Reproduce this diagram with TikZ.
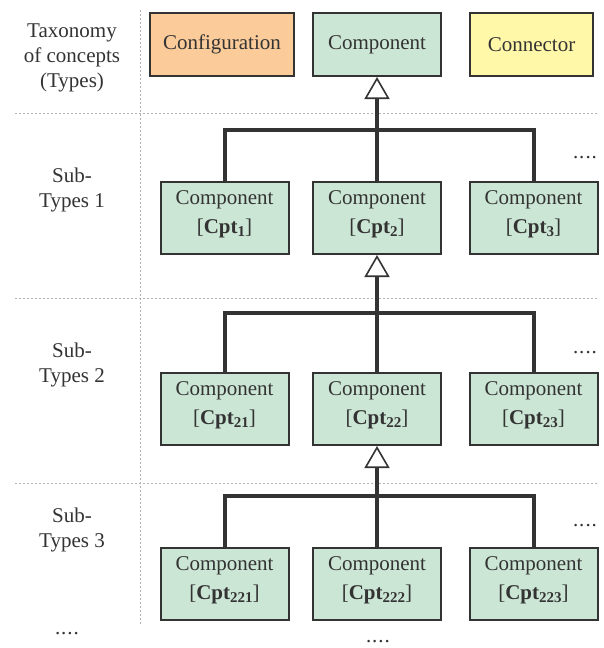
\documentclass[tikz,border=0pt]{standalone}
\usepackage{fontspec}
\setmainfont{Liberation Serif}
\usetikzlibrary{arrows.meta}

\definecolor{cfgfill}{HTML}{FBCB9A}
\definecolor{cptfill}{HTML}{CCE6D5}
\definecolor{confill}{HTML}{FFF8A8}
\definecolor{ink}{HTML}{333333}

\newcommand{\cpt}[1]{[\textbf{Cpt}\raisebox{-0.35ex}{\fontsize{7.5}{7.5}\selectfont\bfseries #1}]}
\newcommand{\more}{.\kern0.5pt.\kern0.5pt.\kern0.5pt.}

\tikzset{
  box/.style={draw=ink, line width=1pt, text=ink, inner sep=0pt,
    minimum width=64pt, minimum height=36pt, align=center,
    font=\fontsize{10.5}{14.5}\selectfont},
  topbox/.style={box, minimum height=31.5pt},
  subbox/.style={box, fill=cptfill, text depth=6pt},
  lbl/.style={text=ink, align=center, font=\fontsize{10.5}{12.5}\selectfont},
  sep/.style={draw=gray!60, line width=0.5pt, dash pattern=on 1pt off 1pt},
  link/.style={draw=ink, line width=2pt},
  isa/.style={link, -{Triangle[open, length=11pt, width=12.5pt, line width=0.8pt]}}
}

\begin{document}
\begin{tikzpicture}[x=0.5pt,y=-0.5pt]
\useasboundingbox (0,0) rectangle (604,648);

% grid of levels
\draw[sep] (140,10) -- (140,624);
\draw[sep] (15,113) -- (597,113);
\draw[sep] (15,298) -- (597,298);
\draw[sep] (15,483) -- (597,483);

\node[lbl] (L0) at (72,58) {Taxonomy\\of concepts\\(Types)};
\node[lbl] (L1) at (72,190) {Sub-\\Types 1};
\node[lbl] (L2) at (72,365) {Sub-\\Types 2};
\node[lbl] (L3) at (72,530) {Sub-\\Types 3};

% types
\node[topbox, fill=cfgfill, minimum width=72pt] (Cfg) at (222,44.5) {Configuration};
\node[topbox, fill=cptfill] (Cpt) at (377,44.5) {Component};
\node[topbox, fill=confill, minimum width=61.5pt] (Con) at (531.5,44.5) {Connector};

% sub-types 1
\node[subbox] (C1) at (224.5,218) {Component\\\cpt{1}};
\node[subbox] (C2) at (377,218) {Component\\\cpt{2}};
\node[subbox] (C3) at (533.5,218) {Component\\\cpt{3}};

% sub-types 2
\node[subbox] (C21) at (224.5,409) {Component\\\cpt{21}};
\node[subbox] (C22) at (377,409) {Component\\\cpt{22}};
\node[subbox] (C23) at (533.5,409) {Component\\\cpt{23}};

% sub-types 3
\node[subbox] (C221) at (224.5,584) {Component\\\cpt{221}};
\node[subbox] (C222) at (377,584) {Component\\\cpt{222}};
\node[subbox] (C223) at (533.5,584) {Component\\\cpt{223}};

\node[lbl] (D1) at (585,158) {\more};
\node[lbl] (D2) at (585,353) {\more};
\node[lbl] (D3) at (585,526) {\more};
\node[lbl] (D4) at (67,634) {\more};
\node[lbl] (D5) at (378,642) {\more};

\coordinate (b1) at (377,130);
\coordinate (b2) at (377,313);
\coordinate (b3) at (377,496);

\draw[link] (C1.north) |- (b1) -| (C3.north);
\draw[link] (C21.north) |- (b2) -| (C23.north);
\draw[link] (C221.north) |- (b3) -| (C223.north);

\path[isa] (C2) edge (Cpt);
\path[isa] (C22) edge (C2);
\path[isa] (C222) edge (C22);
\end{tikzpicture}
\end{document}
